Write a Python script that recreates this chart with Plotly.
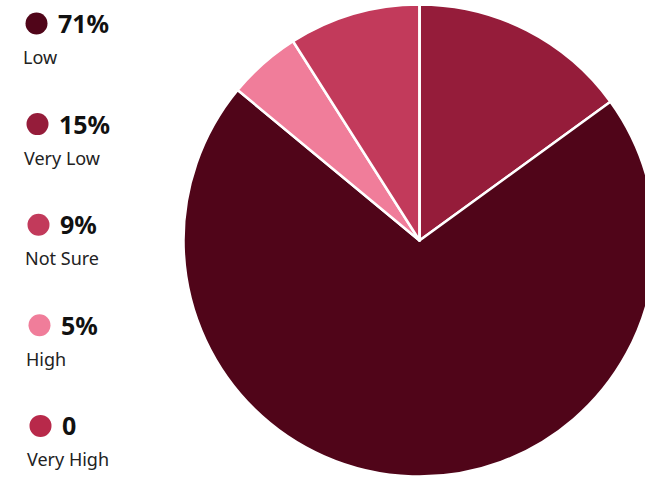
import plotly.graph_objects as go

# Pie slices, in drawing order (clockwise from 12 o'clock)
categories = ["Very Low", "Low", "High", "Not Sure", "Very High"]
values = [15, 71, 5, 9, 0]
colors = ["#951C3A", "#500519", "#F07D9A", "#C23A5B", "#B8294A"]

# Side key, top to bottom
key_categories = ["Low", "Very Low", "Not Sure", "High", "Very High"]
key_texts = ["71%", "15%", "9%", "5%", "0"]

W, H = 660, 481
FONT = "Noto Sans"


def px_x(x):
    return x / W


def px_y(y):
    return 1 - y / H


fig = go.Figure()
fig.add_trace(go.Pie(
    labels=categories,
    values=values,
    sort=False,
    direction="clockwise",
    rotation=0,
    textinfo="none",
    marker=dict(colors=colors, line=dict(color="white", width=2.5)),
    domain=dict(x=[px_x(183.5), px_x(655.5)], y=[px_y(476.5), px_y(4.5)]),
    showlegend=False,
))

color_of = dict(zip(categories, colors))
shapes, annotations = [], []
for i, (cat, txt) in enumerate(zip(key_categories, key_texts)):
    cy = 23.5 + 100.6 * i
    cx = 36.5 + 1.0 * i
    r = 11
    shapes.append(dict(
        type="circle", xref="paper", yref="paper",
        x0=px_x(cx - r), x1=px_x(cx + r), y0=px_y(cy + r), y1=px_y(cy - r),
        fillcolor=color_of[cat], line=dict(width=0),
    ))
    annotations.append(dict(
        text=f"<b>{txt}</b>", xref="paper", yref="paper",
        x=px_x(56 + 1.0 * i), y=px_y(cy - 0.5), xanchor="left", yanchor="middle",
        showarrow=False, font=dict(family=FONT, size=25, color="#111111"),
    ))
    annotations.append(dict(
        text=cat, xref="paper", yref="paper",
        x=px_x(21 + 0.9 * i), y=px_y(cy + 33.5), xanchor="left", yanchor="middle",
        showarrow=False, font=dict(family=FONT, size=18, color="#222222"),
    ))

fig.update_layout(
    width=W, height=H,
    margin=dict(l=0, r=0, t=0, b=0),
    paper_bgcolor="white", plot_bgcolor="white",
    shapes=shapes, annotations=annotations,
)

fig.write_html("out.html")
